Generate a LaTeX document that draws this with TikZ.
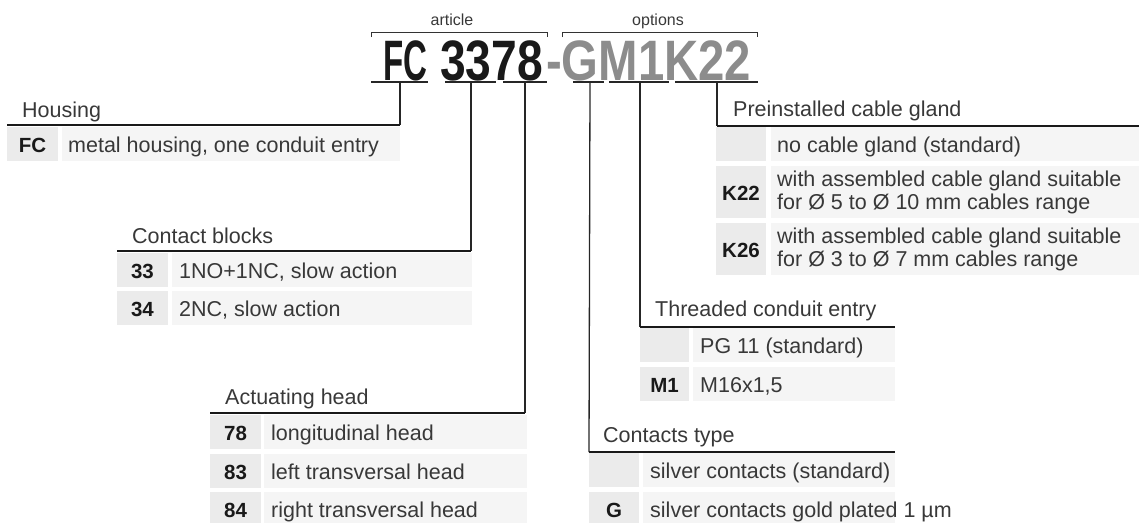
\documentclass[tikz,border=0pt]{standalone}
\usepackage{fontspec}
\usepackage{graphicx}
\setmainfont{Liberation Sans}
\usetikzlibrary{positioning}
\definecolor{keygray}{HTML}{EBEBEB}
\definecolor{descgray}{HTML}{F5F5F5}
\definecolor{optgray}{HTML}{8C8C8C}
\definecolor{txtgray}{HTML}{383838}

\begin{document}
\begin{tikzpicture}[x=1pt, y=-1pt,
    code/.style={anchor=base west, inner sep=0pt, font=\fontsize{57}{60}\selectfont\bfseries},
    small/.style={anchor=base, inner sep=0pt, font=\fontsize{16}{18}\selectfont, text=txtgray},
    bracket/.style={line width=1pt, black!80},
    uline/.style={line width=1.2pt, black!85},
    leader/.style={line width=1.3pt, black!85},
    rule/.style={line width=2.4pt, black!90},
    heading/.style={anchor=base west, inner sep=0pt, font=\fontsize{21.5}{24}\selectfont, text=txtgray},
    keytext/.style={anchor=base, inner sep=0pt, font=\fontsize{20.5}{24}\selectfont\bfseries, text=black!90},
    desctext/.style={anchor=base west, inner sep=0pt, font=\fontsize{21.5}{23}\selectfont, text=txtgray},
    desctwo/.style={anchor=west, inner sep=0pt, align=left, font=\fontsize{21.5}{23}\selectfont, text=txtgray}]
    \useasboundingbox (0,0) rectangle (1139,522);

    % code
    \node[code, text=black!90] (fc) at (383,80) {\scalebox{0.58}[1]{FC}};
    \node[code, text=black!90] (num) at (440,80) {\scalebox{0.81}[1]{3378}};
    \node[code, text=optgray] (opt) at (546,80) {\scalebox{0.83}[1]{-GM1K22}};
    \node[small] (art) at (452,25) {article};
    \node[small] (opts) at (658,25) {options};
    \draw[bracket] (371,37) -- (371,32) -- (547,32) -- (547,37);
    \draw[bracket] (562,37) -- (562,32) -- (757,32) -- (757,37);

    % underlines and leader ends
    \draw[uline] (371,82) -- (428,82);
    \draw[uline] (445,82) -- (496,82);
    \draw[uline] (503,82) -- (547,82);
    \draw[uline] (573,82) -- (604,82);
    \draw[uline] (609,82) -- (669,82);
    \draw[uline] (675,82) -- (758,82);
    \coordinate (u-fc) at (400,82);
    \coordinate (u-cb) at (471,82);
    \coordinate (u-ah) at (525,82);
    \coordinate (u-ct) at (590,82);
    \coordinate (u-th) at (640,82);
    \coordinate (u-gl) at (717,82);

    % Housing
    \node[heading] (hsg) at (22,117) {Housing};
    \coordinate (hsg-s) at (7,125);
    \coordinate (hsg-e) at (400,125);
    \draw[leader] (u-fc) -- (hsg-e);
    \draw[rule] (hsg-s) -- (hsg-e);
    \fill[keygray] (7,127) rectangle (58,161);
    \fill[descgray] (62,127) rectangle (400,161);
    \node[keytext] (hsg-k1) at (32.5,152) {FC};
    \node[desctext] (hsg-d1) at (68,152.5) {metal housing, one conduit entry};

    % Contact blocks
    \node[heading] (cb) at (132,243) {Contact blocks};
    \coordinate (cb-s) at (117,251);
    \coordinate (cb-e) at (471,251);
    \draw[leader] (u-cb) -- (cb-e);
    \draw[rule] (cb-s) -- (cb-e);
    \foreach \y/\k/\d [count=\i] in {253/33/{1NO+1NC, slow action}, 291/34/{2NC, slow action}} {
        \fill[keygray] (117,\y) rectangle (168,\y+34);
        \fill[descgray] (172,\y) rectangle (472,\y+34);
        \node[keytext] (cb-k\i) at (142.5,\y+25.5) {\k};
        \node[desctext] (cb-d\i) at (179,\y+25.5) {\d};
    }

    % Actuating head
    \node[heading] (ah) at (225,404) {Actuating head};
    \coordinate (ah-s) at (210,413);
    \coordinate (ah-e) at (525,413);
    \draw[leader] (u-ah) -- (ah-e);
    \draw[rule] (ah-s) -- (ah-e);
    \foreach \y/\k/\d [count=\i] in {415/78/longitudinal head, 454/83/left transversal head, 492/84/right transversal head} {
        \fill[keygray] (210,\y) rectangle (261,\y+34);
        \fill[descgray] (264,\y) rectangle (527,\y+34);
        \node[keytext] (ah-k\i) at (235.5,\y+25.5) {\k};
        \node[desctext] (ah-d\i) at (271,\y+25.5) {\d};
    }

    % Threaded conduit entry
    \node[heading] (th) at (655,316) {Threaded conduit entry};
    \coordinate (th-s) at (640,327);
    \coordinate (th-e) at (895,327);
    \draw[leader] (u-th) -- (th-s);
    \draw[rule] (th-s) -- (th-e);
    \foreach \y/\k/\d [count=\i] in {328//{PG 11 (standard)}, 367/M1/{M16x1,5}} {
        \fill[keygray] (640,\y) rectangle (689,\y+34);
        \fill[descgray] (693,\y) rectangle (895,\y+34);
        \node[keytext] (th-k\i) at (664.5,\y+25.5) {\k};
        \node[desctext] (th-d\i) at (700,\y+25.5) {\d};
    }

    % Contacts type
    \node[heading] (ct) at (603,442) {Contacts type};
    \coordinate (ct-s) at (589,452);
    \coordinate (ct-e) at (895,452);
    \draw[leader] (u-ct) -- (ct-s);
    \draw[rule] (ct-s) -- (ct-e);
    \foreach \y/\k/\d [count=\i] in {453//{silver contacts (standard)}, 492/G/{silver contacts gold plated 1 µm}} {
        \fill[keygray] (589,\y) rectangle (639,\y+34);
        \fill[descgray] (643,\y) rectangle (895,\y+34);
        \node[keytext] (ct-k\i) at (614,\y+25.5) {\k};
        \node[desctext] (ct-d\i) at (650,\y+25.5) {\d};
    }

    % Preinstalled cable gland
    \node[heading] (gl) at (733,116) {Preinstalled cable gland};
    \coordinate (gl-s) at (717,126);
    \coordinate (gl-e) at (1139,126);
    \draw[leader] (u-gl) -- (gl-s);
    \draw[rule] (gl-s) -- (gl-e);
    \fill[keygray] (716,127) rectangle (766,161);
    \fill[descgray] (771,127) rectangle (1139,161);
    \node[desctext] (gl-d1) at (777,152.5) {no cable gland (standard)};
    \foreach \y/\k/\d [count=\i from 2] in {166/K22/{with assembled cable gland suitable\\for Ø 5 to Ø 10 mm cables range}, 223/K26/{with assembled cable gland suitable\\for Ø 3 to Ø 7 mm cables range}} {
        \fill[keygray] (716,\y) rectangle (766,\y+52);
        \fill[descgray] (771,\y) rectangle (1139,\y+52);
        \node[keytext] (gl-k\i) at (741,\y+34) {\k};
        \node[desctwo] (gl-d\i) at (777,\y+26) {\d};
    }
\end{tikzpicture}
\end{document}
